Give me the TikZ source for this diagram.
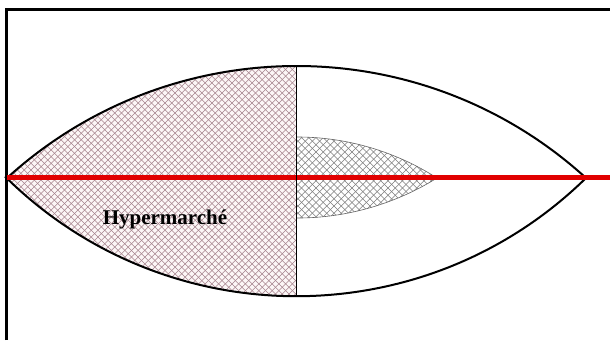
\documentclass[tikz,border=0pt]{standalone}
\usepackage{fontspec}
\setmainfont{Liberation Serif}
\definecolor{hatchpink}{RGB}{165,130,140}
\definecolor{hatchgray}{RGB}{125,125,125}
\definecolor{pinkbg}{RGB}{252,246,246}
\definecolor{axisred}{RGB}{225,0,0}
\definecolor{innerline}{RGB}{100,100,100}
\begin{document}
\begin{tikzpicture}[x=1pt,y=1pt,
  outline/.style={line width=2pt,black},
  hatchA/.style={line width=0.55pt,draw=hatchpink},
  hatchB/.style={line width=0.55pt,draw=hatchgray},
  redaxis/.style={line width=5pt,draw=axisred},
  label/.style={font=\bfseries\fontsize{21}{21}\selectfont,inner sep=0pt}]
\useasboundingbox (0,0) rectangle (610,340);
\fill[white] (0,0) rectangle (610,340);
% frame
\draw[line width=3pt] (6,0) -- (6,330) -- (612,330);
% coordinates
\coordinate (L) at (7,162);
\coordinate (R) at (586,162);
\coordinate (T) at (296.5,274);
\coordinate (B) at (296.5,44);
% left hatched half
\begin{scope}
  \clip (L) arc[start angle=132.3,end angle=90,radius=430.2] -- (B) arc[start angle=-90,end angle=-134.4,radius=414.1] -- cycle;
  \fill[pinkbg] (0,0) rectangle (300,340);
  \foreach \i in {-340,-333.3,...,620} {
    \draw[hatchA] (\i,0) -- ++(340,340);
    \draw[hatchA] (\i,340) -- ++(340,-340);
  }
\end{scope}
% inner small lens
\coordinate (IT) at (297,203);
\coordinate (IB) at (297,122);
\coordinate (IP) at (437,162);
\begin{scope}
  \clip (IT) arc[start angle=90,end angle=57.35,radius=259.5] -- (IP) arc[start angle=-58.1,end angle=-90,radius=265] -- cycle;
  \foreach \i in {-340,-332.8,...,620} {
    \draw[hatchB] (\i,0) -- ++(340,340);
    \draw[hatchB] (\i,340) -- ++(340,-340);
  }
\end{scope}
\draw[line width=0.6pt,draw=innerline] (IT) arc[start angle=90,end angle=57.35,radius=259.5] -- (IP) arc[start angle=-58.1,end angle=-90,radius=265];
% lens outline
\draw[outline] (L) arc[start angle=132.3,end angle=47.7,radius=430.2] -- (R) arc[start angle=-45.6,end angle=-134.4,radius=414.1] -- cycle;
% red axis
\coordinate (E) at (612,162);
\draw[redaxis] (L) -- (E);
% divider
\draw[line width=1.8pt] (T) -- (B);
% label
\node[label] (hyper) at (165,121) {Hypermarché};
\end{tikzpicture}
\end{document}
